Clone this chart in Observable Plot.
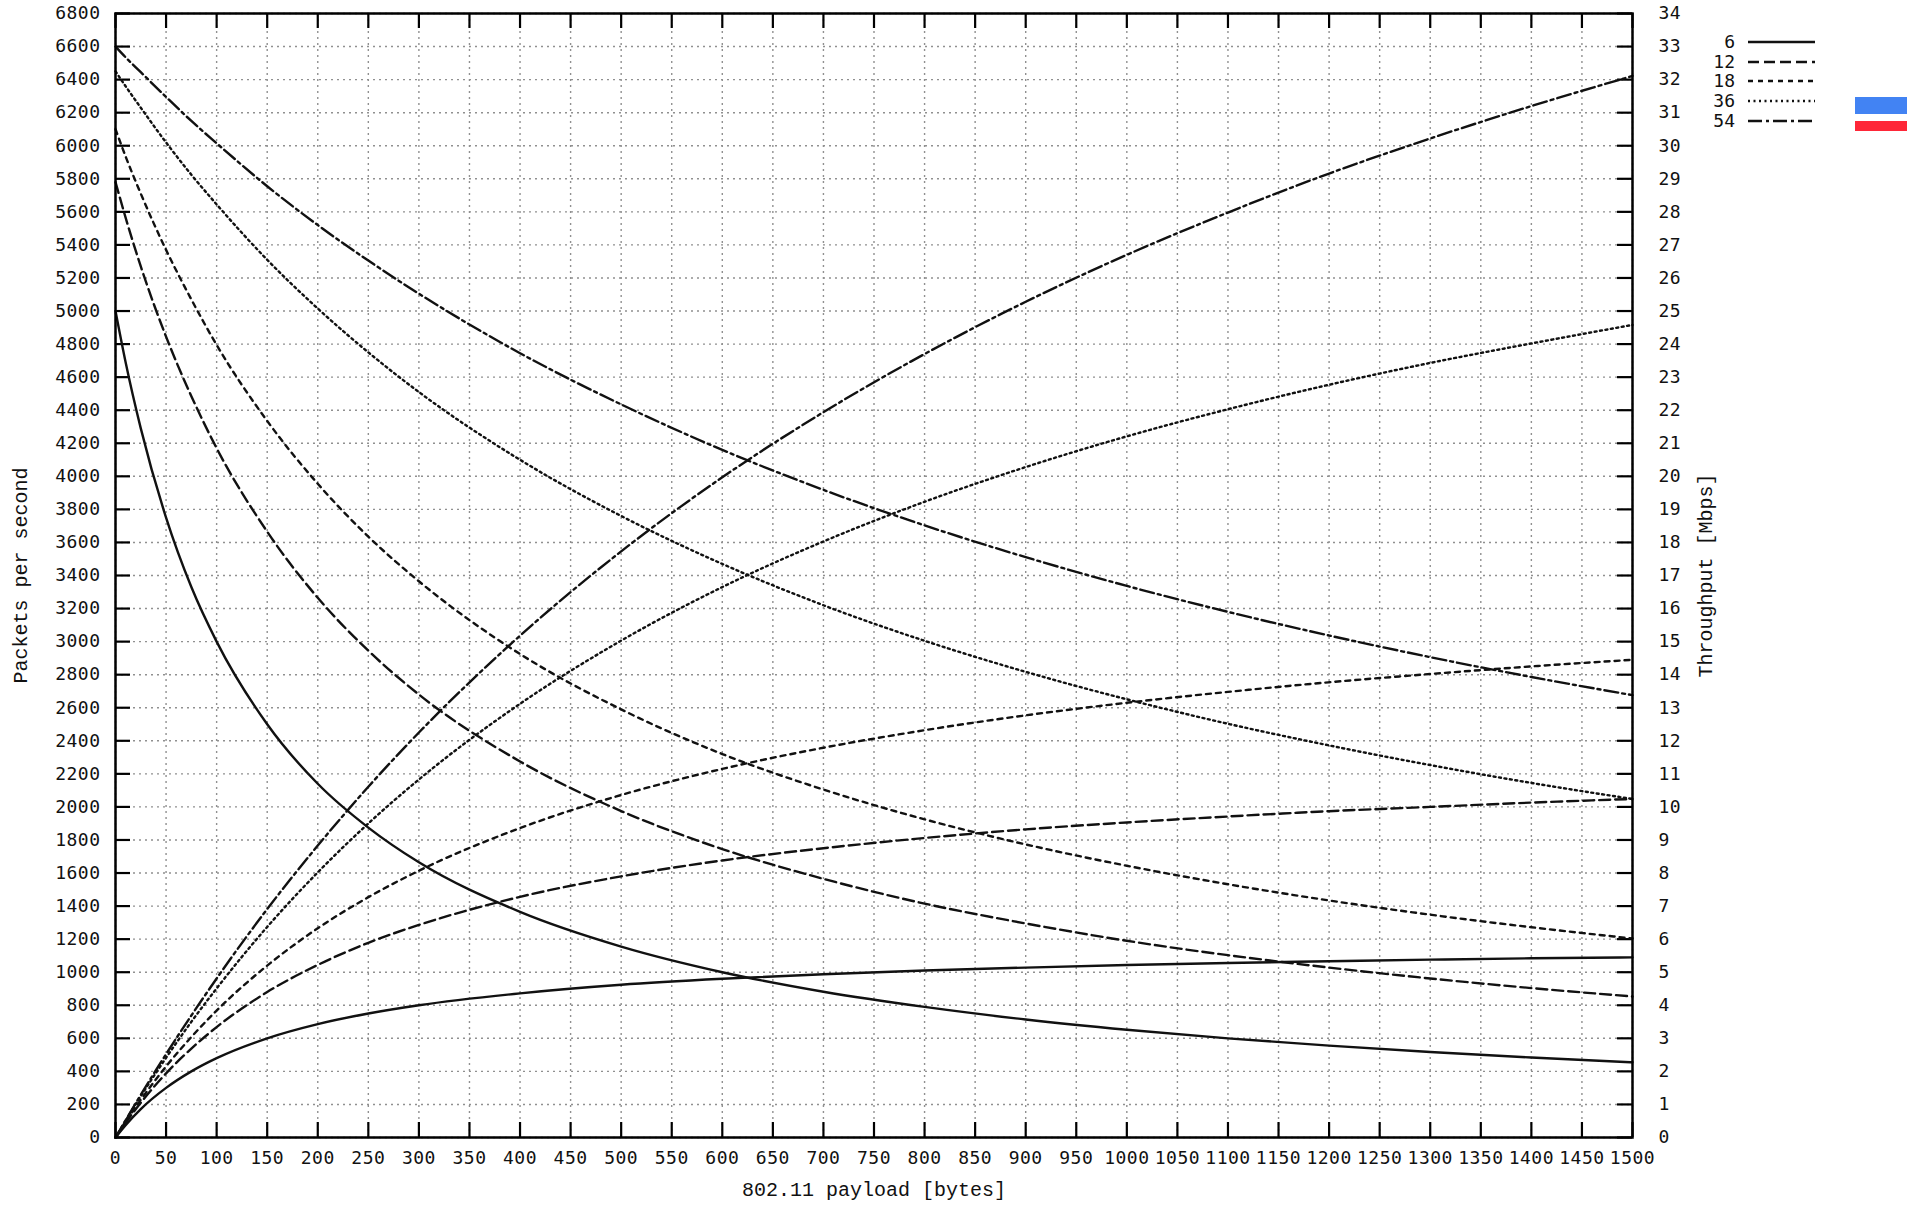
<!DOCTYPE html>
<html>
<head>
<meta charset="utf-8">
<script src="https://cdn.jsdelivr.net/npm/d3@7"></script>
<script src="https://cdn.jsdelivr.net/npm/@observablehq/plot@0.6"></script>
<style>
  html, body { margin: 0; padding: 0; background: white; }
  #wrap { position: relative; width: 1916px; height: 1205px; }
  #legend { position: absolute; left: 0; top: 0; }
  g[aria-label="x-axis label"], g[aria-label="y-axis label"] {
    font-family: "Liberation Mono", monospace; font-size: 20px;
  }
  g[aria-label="x-axis tick label"], g[aria-label="y-axis tick label"] { letter-spacing: 0.5px; }
</style>
</head>
<body>
<div id="wrap"></div>
<script>
// ---- data ----
const payload = [0, 10, 25, 50, 75, 100, 150, 200, 250, 300, 400, 500, 600, 700, 800, 900, 1000, 1100, 1200, 1300, 1400, 1500];
const rates = ["6", "12", "18", "36", "54"];

// packets per second (left axis)
const pps6  = [5000, 4690, 4290, 3750, 3330, 3000, 2500, 2140, 1875, 1665, 1365, 1155, 1000, 882, 790, 714, 652, 600, 556, 517, 484, 455];
const pps12 = [5780, 5565, 5270, 4845, 4485, 4170, 3665, 3265, 2945, 2680, 2275, 1975, 1745, 1565, 1415, 1295, 1190, 1103, 1028, 962, 904, 853];
const pps18 = [6100, 5935, 5710, 5370, 5070, 4795, 4335, 3955, 3635, 3365, 2925, 2590, 2320, 2105, 1925, 1773, 1644, 1532, 1434, 1348, 1272, 1204];
const pps36 = [6450, 6360, 6230, 6020, 5825, 5645, 5310, 5015, 4750, 4510, 4100, 3760, 3470, 3220, 3005, 2817, 2651, 2503, 2372, 2253, 2145, 2048];
const pps54 = [6600, 6535, 6445, 6295, 6150, 6015, 5755, 5520, 5305, 5105, 4745, 4435, 4160, 3918, 3703, 3511, 3337, 3180, 3037, 2906, 2786, 2676];

// throughput in Mbps (right axis)
const thr6  = [0, 0.375, 0.86, 1.50, 2.00, 2.40, 3.00, 3.43, 3.75, 4.00, 4.36, 4.62, 4.80, 4.94, 5.05, 5.14, 5.22, 5.28, 5.33, 5.38, 5.42, 5.45];
const thr12 = [0, 0.445, 1.05, 1.94, 2.69, 3.34, 4.40, 5.22, 5.89, 6.43, 7.28, 7.90, 8.38, 8.75, 9.06, 9.32, 9.53, 9.71, 9.87, 10.00, 10.13, 10.24];
const thr18 = [0, 0.475, 1.14, 2.15, 3.04, 3.84, 5.20, 6.33, 7.27, 8.07, 9.36, 10.36, 11.15, 11.79, 12.32, 12.77, 13.15, 13.48, 13.77, 14.02, 14.25, 14.45];
const thr36 = [0, 0.51, 1.25, 2.41, 3.50, 4.51, 6.37, 8.02, 9.50, 10.83, 13.12, 15.03, 16.65, 18.03, 19.23, 20.28, 21.21, 22.03, 22.77, 23.43, 24.02, 24.58];
const thr54 = [0, 0.52, 1.29, 2.52, 3.69, 4.81, 6.91, 8.83, 10.61, 12.25, 15.18, 17.73, 19.97, 21.94, 23.70, 25.28, 26.70, 27.98, 29.16, 30.22, 31.20, 32.11];

const xTicks = d3.range(0, 1501, 50);
const yTicks = d3.range(0, 6801, 200);
const mbpsToLeft = 200; // 34 Mbps at top == 6800 pps

// ---- styles ----
const dashes = {"6": null, "12": "11,5", "18": "5,5", "36": "2,3.5", "54": "14,4,3,4"};

const ppsSeries = {"6": pps6, "12": pps12, "18": pps18, "36": pps36, "54": pps54};
const thrSeries = {"6": thr6, "12": thr12, "18": thr18, "36": thr36, "54": thr54};

const W = 1916, H = 1205;
const M = {top: 13, right: 284, bottom: 68, left: 115};
const plotW = W - M.left - M.right, plotH = H - M.top - M.bottom;
const tickLen = 15;

const lineMarks = [];
for (const r of rates) {
  const a = payload.map((p, i) => ({x: p, y: ppsSeries[r][i]}));
  const b = payload.map((p, i) => ({x: p, y: thrSeries[r][i] * mbpsToLeft}));
  const opts = {x: "x", y: "y", stroke: "#111", strokeWidth: 2.4, curve: "monotone-x"};
  if (dashes[r]) opts.strokeDasharray = dashes[r];
  lineMarks.push(Plot.line(a, opts), Plot.line(b, opts));
}

const chart = Plot.plot({
  width: W, height: H,
  marginTop: M.top, marginRight: M.right, marginBottom: M.bottom, marginLeft: M.left,
  style: {fontFamily: "'DejaVu Sans Mono', monospace", fontSize: "18px", color: "#111", background: "white", overflow: "visible"},
  x: {domain: [0, 1500]},
  y: {domain: [0, 6800]},
  marks: [
    Plot.gridX(xTicks, {stroke: "#909090", strokeOpacity: 1, strokeWidth: 1.4, strokeDasharray: "2,4"}),
    Plot.gridY(yTicks, {stroke: "#909090", strokeOpacity: 1, strokeWidth: 1.4, strokeDasharray: "2,4"}),
    Plot.axisX(xTicks, {anchor: "bottom", tickSize: 0, tickPadding: 14, tickFormat: d => String(d), label: "802.11 payload [bytes]", labelAnchor: "center", labelOffset: 58, labelArrow: "none"}),
    Plot.axisY(yTicks, {anchor: "left", tickSize: 0, tickPadding: 15, tickFormat: d => String(d), label: "Packets per second", labelAnchor: "center", labelOffset: 103, labelArrow: "none"}),
    Plot.axisY(yTicks, {anchor: "right", tickSize: 0, tickPadding: 26, tickFormat: d => String(d / mbpsToLeft), label: "Throughput [Mbps]", labelAnchor: "center", labelOffset: 79, labelArrow: "none"}),
    // inward ticks (gnuplot style)
    Plot.ruleY(yTicks, {y: d => d, insetRight: plotW - tickLen, stroke: "black", strokeWidth: 2.2}),
    Plot.ruleY(yTicks, {y: d => d, insetLeft: plotW - tickLen, stroke: "black", strokeWidth: 2.2}),
    Plot.ruleX(xTicks, {x: d => d, insetTop: plotH - tickLen, stroke: "black", strokeWidth: 2.2}),
    Plot.ruleX(xTicks, {x: d => d, insetBottom: plotH - tickLen, stroke: "black", strokeWidth: 2.2}),
    ...lineMarks,
    Plot.frame({stroke: "black", strokeWidth: 2.5})
  ]
});

const wrap = document.getElementById("wrap");
wrap.appendChild(chart);

// ---- legend (top right) ----
const leg = d3.select(wrap).append("svg").attr("id", "legend")
  .attr("width", W).attr("height", 160)
  .style("pointer-events", "none");
const rowY = [42, 62, 81, 101, 121];
rates.forEach((r, i) => {
  leg.append("text").attr("x", 1735).attr("y", rowY[i]).attr("dy", "0.35em")
    .attr("text-anchor", "end")
    .style("font-family", "'DejaVu Sans Mono', monospace").style("font-size", "18px")
    .attr("fill", "#111").text(r);
  const ln = leg.append("line").attr("x1", 1748).attr("x2", 1815)
    .attr("y1", rowY[i]).attr("y2", rowY[i]).attr("stroke", "#111").attr("stroke-width", 2.4);
  if (dashes[r]) ln.attr("stroke-dasharray", dashes[r]);
});
leg.append("rect").attr("x", 1855).attr("y", 97).attr("width", 52).attr("height", 17).attr("fill", "#4283f3");
leg.append("rect").attr("x", 1855).attr("y", 121).attr("width", 52).attr("height", 10).attr("fill", "#fe2738");
</script>
</body>
</html>
